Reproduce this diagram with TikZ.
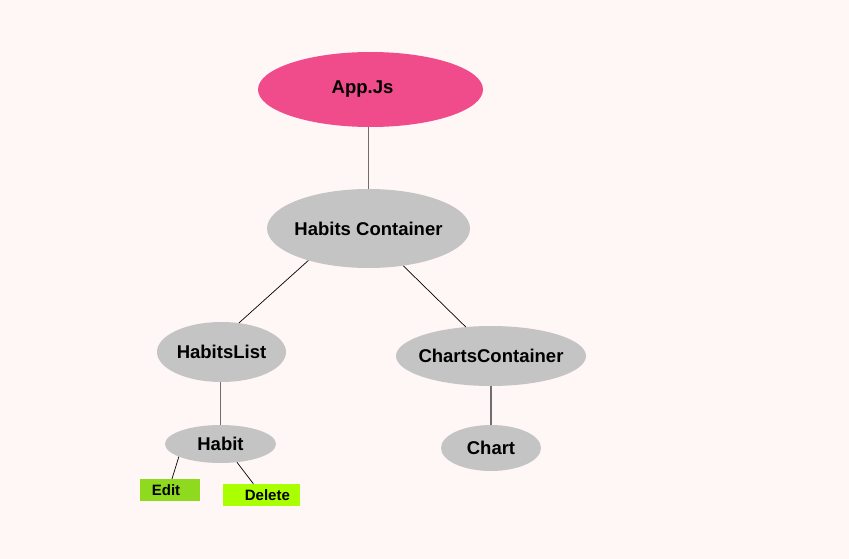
\documentclass[tikz,border=0pt]{standalone}
\usepackage{fontspec}
\setmainfont{Liberation Sans}
\usetikzlibrary{shapes.geometric,calc}
\definecolor{bgc}{RGB}{255,246,246}
\definecolor{pinkc}{RGB}{240,76,140}
\definecolor{grayc}{RGB}{196,196,196}
\definecolor{editc}{RGB}{143,217,30}
\definecolor{delc}{RGB}{170,255,0}
\definecolor{linec}{RGB}{110,110,110}
\newcommand{\zw}[1]{\makebox[0pt][c]{#1}}
\tikzset{
  ell/.style={ellipse, fill=grayc, draw=none, inner sep=0pt, font=\fontsize{18.5}{20}\selectfont\bfseries},
  btn/.style={rectangle, inner sep=0pt, font=\fontsize{15}{17}\selectfont\bfseries},
  vline/.style={draw=linec, line width=1.3pt},
  dline/.style={draw=black, line width=0.7pt}
}
\begin{document}
\begin{tikzpicture}[x=1pt,y=-1pt]
\fill[bgc] (0,0) rectangle (849,559);
\useasboundingbox (0,0) rectangle (849,559);
\node[ell, fill=pinkc, minimum width=225pt, minimum height=75pt] (app) at (370.5,89.5) {\zw{\hspace*{-16pt}App.Js}};
\node[ell, minimum width=203pt, minimum height=79pt] (hc) at (368.5,228.5) {\zw{Habits Container}};
\node[ell, minimum width=129pt, minimum height=60pt] (hl) at (221.5,352) {\zw{HabitsList}};
\node[ell, minimum width=190pt, minimum height=60pt] (cc) at (491,356) {\zw{ChartsContainer}};
\node[ell, minimum width=100pt, minimum height=46pt] (chart) at (491,448) {\zw{Chart}};
\node[ell, minimum width=111pt, minimum height=38pt] (habit) at (220.5,444) {\zw{Habit}};
\node[btn, fill=editc, minimum width=60pt, minimum height=21.5pt] (edit) at (170,489.8) {\hspace*{-8pt}Edit};
\node[btn, fill=delc, minimum width=77pt, minimum height=22pt] (del) at (261.4,495) {\hspace*{12pt}Delete};
\draw[vline] (hc.north) -- (hc.north |- app.south);
\draw[dline] (hc.208) -- (hl.59);
\draw[dline] (hc.313) -- (cc.131);
\draw[vline] (habit.north) -- (habit.north |- hl.south);
\draw[vline] (chart.north) -- (chart.north |- cc.south);
\draw[dline] (habit.197) -- ($(edit.north)+(2,0)$);
\draw[dline] (habit.312) -- ($(del.north)+(-8,0)$);
\end{tikzpicture}
\end{document}
